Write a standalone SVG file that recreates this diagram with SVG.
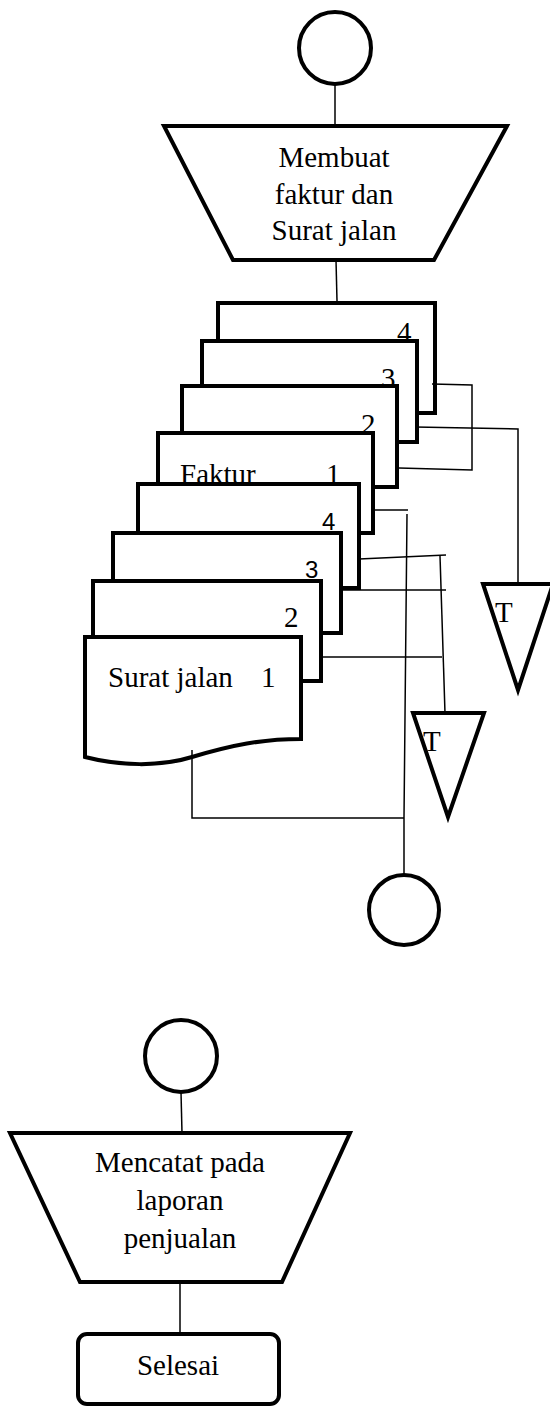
<svg xmlns="http://www.w3.org/2000/svg" width="550" height="1407" viewBox="0 0 550 1407">
  <style>
    .shape { fill: #fff; stroke: #000; stroke-width: 4; stroke-linejoin: miter; }
    .link { fill: none; stroke: #000; stroke-width: 1.5; }
    .lbl { font-family: "Liberation Serif", "Times New Roman", serif; font-size: 29px; fill: #000; }
    .mid { text-anchor: middle; }
    .sans { font-family: "Liberation Sans", Arial, sans-serif; font-size: 24px; fill: #000; }
  </style>

  <rect width="550" height="1407" fill="#fff"/>

  <!-- page connector at the top -->
  <g id="start-connector">
    <circle class="shape" cx="335" cy="48" r="36"/>
  </g>

  <!-- manual operation: create invoice and delivery note -->
  <g id="make-documents">
    <polygon class="shape" points="164,126 507,126 434,260 233,260"/>
    <text class="lbl mid" x="334" y="167">Membuat</text>
    <text class="lbl mid" x="334" y="204">faktur dan</text>
    <text class="lbl mid" x="334" y="240">Surat jalan</text>
  </g>

  <!-- invoice copies, back to front -->
  <g id="faktur-4">
    <rect class="shape" x="218" y="303" width="217" height="110"/>
    <text class="lbl" x="397" y="342">4</text>
  </g>
  <g id="faktur-3">
    <rect class="shape" x="202" y="341" width="215" height="101"/>
    <text class="lbl" x="381" y="388">3</text>
  </g>
  <g id="faktur-2">
    <rect class="shape" x="182" y="386" width="215" height="101"/>
    <text class="lbl" x="361" y="434">2</text>
  </g>
  <g id="faktur-1">
    <rect class="shape" x="158" y="433" width="215" height="100"/>
    <text class="lbl" x="180" y="484">Faktur</text>
    <text class="lbl" x="326" y="484">1</text>
  </g>

  <!-- delivery note copies, back to front -->
  <g id="surat-jalan-4">
    <rect class="shape" x="138" y="484" width="221" height="104"/>
    <text class="sans" x="322" y="530">4</text>
  </g>
  <g id="surat-jalan-3">
    <rect class="shape" x="113" y="533" width="228" height="100"/>
    <text class="sans" x="305" y="578">3</text>
  </g>
  <g id="surat-jalan-2">
    <rect class="shape" x="93" y="581" width="228" height="100"/>
    <text class="lbl" x="284" y="627">2</text>
  </g>
  <g id="surat-jalan-1">
    <path class="shape" d="M85,637 H301 V739 C262,739 232,745 192,757 C160,767 120,766 85,757 Z"/>
    <text class="lbl" x="108" y="687" font-size="31.5">Surat jalan <tspan x="261">1</tspan></text>
  </g>

  <!-- offline files -->
  <g id="arsip-faktur">
    <polygon class="shape" points="483,584 553,584 518,690"/>
    <text class="lbl" x="495" y="622" font-size="27">T</text>
  </g>
  <g id="arsip-surat-jalan">
    <polygon class="shape" points="413,713 484,713 448,817"/>
    <text class="lbl" x="423" y="751" font-size="27">T</text>
  </g>

  <!-- off-page connector after distribution -->
  <g id="end-connector">
    <circle class="shape" cx="404" cy="910" r="35"/>
  </g>

  <!-- continuation on next section -->
  <g id="resume-connector">
    <circle class="shape" cx="181" cy="1056" r="36"/>
  </g>
  <g id="record-report">
    <polygon class="shape" points="10,1133 350,1133 282,1282 80,1282"/>
    <text class="lbl mid" x="180" y="1172">Mencatat pada</text>
    <text class="lbl mid" x="180" y="1210">laporan</text>
    <text class="lbl mid" x="180" y="1248">penjualan</text>
  </g>
  <g id="finish">
    <rect class="shape" x="78" y="1334" width="201" height="70" rx="9" ry="9"/>
    <text class="lbl mid" x="178" y="1375">Selesai</text>
  </g>

  <!-- connectors -->
  <g id="connectors">
    <line class="link" x1="335" y1="84" x2="335" y2="126"/>
    <line class="link" x1="336" y1="260" x2="337" y2="301"/>
    <!-- faktur 4 and faktur 2 bracket -->
    <polyline class="link" points="432,384 472,385 472,470 399,468"/>
    <!-- faktur 3 to file -->
    <polyline class="link" points="415,427 518,429 518,584"/>
    <!-- faktur 1 down to connector -->
    <line class="link" x1="372" y1="510" x2="408" y2="510"/>
    <polyline class="link" points="407,514 404,818 404,875"/>
    <!-- delivery note copies to file -->
    <polyline class="link" points="359,559 446,555"/>
    <line class="link" x1="440" y1="556" x2="445" y2="713"/>
    <line class="link" x1="341" y1="590" x2="446" y2="590"/>
    <line class="link" x1="321" y1="657" x2="442" y2="657"/>
    <!-- delivery note 1 to connector -->
    <polyline class="link" points="192,750 192,818 404,818"/>
    <!-- second section -->
    <line class="link" x1="181" y1="1092" x2="182" y2="1133"/>
    <line class="link" x1="180" y1="1282" x2="180" y2="1334"/>
  </g>
</svg>
